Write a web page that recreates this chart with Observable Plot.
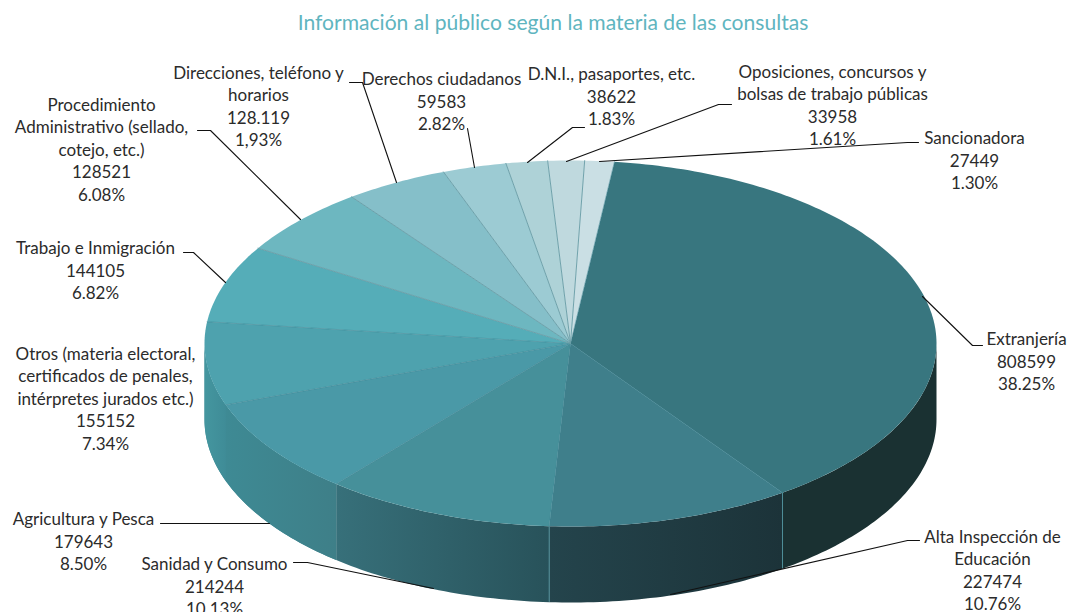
<!DOCTYPE html>
<html lang="es">
<head>
<meta charset="utf-8">
<script src="https://cdn.jsdelivr.net/npm/d3@7"></script>
<script src="https://cdn.jsdelivr.net/npm/@observablehq/plot@0.6"></script>
<style>
  html, body { margin: 0; background: #fff; overflow: hidden; }
  #title { height: 40px; width: 1106px; text-align: center; font: 21.1px/43px Lato, sans-serif; color: #5fb5bf; white-space: nowrap; }
  svg { display: block; }
</style>
</head>
<body>
<div id="title">Información al público según la materia de las consultas</div>
<div id="chart"></div>
<script>
// --- data, clockwise from the start of the largest slice
const categories = [
  "Extranjería",
  "Alta Inspección de\nEducación",
  "Sanidad y Consumo",
  "Agricultura y Pesca",
  "Otros (materia electoral,\ncertificados de penales,\nintérpretes jurados etc.)",
  "Trabajo e Inmigración",
  "Procedimiento\nAdministrativo (sellado,\ncotejo, etc.)",
  "Direcciones, teléfono y\nhorarios",
  "Derechos ciudadanos",
  "D.N.I., pasaportes, etc.",
  "Oposiciones, concursos y\nbolsas de trabajo públicas",
  "Sancionadora"
];
const countLabels = ["808599","227474","214244","179643","155152","144105","128521","128.119","59583","38622","33958","27449"];
const percentLabels = ["38.25%","10.76%","10.13%","8.50%","7.34%","6.82%","6.08%","1,93%","2.82%","1.83%","1.61%","1.30%"];
// Slice sizes in percent. The Direcciones label is inconsistent with its wedge in the source,
// so its share is read from the drawn wedge.
const shares = [38.25,10.76,10.13,8.50,7.34,6.82,6.08,4.56,2.82,1.83,1.61,1.30];

// --- styles and layout
const topColors = ["#38767f","#3f7f8b","#46909a","#4a99a7","#4ea2ae","#55adb8","#6db7c0","#85bfc9","#9ccbd3","#aed2d7","#bfd9de","#cadfe4"];
const wallStops = [["#1a3132","#1a3132"],["#24444c","#1c3339"],["#37707a","#28525a"],["#3e8a94","#3e7f88"],["#44969f","#3f8c97"]];
const labelAt = [[1026,360],[992,569],[214,585],[83,540],[105,397],[95,269],[101,148],[258,105],[441,100],[611,95],[832,104],[974,159]];
const leaders = [
  [[922,296],[972,345],[982,345]],
  [[670,594],[907,540],[919,540]],
  [[433,588],[307,562],[293,562]],
  [[269,523],[160,523]],
  [[225,282],[193,252],[183,252]],
  [[300,219],[210,130],[197,130]],
  [[396,182],[362,82],[349,82]],
  [[474,167],[467,128]],
  [[527,162],[572,127],[584,127]],
  [[566,161],[718,104],[731,104]],
  [[599,161],[907,142],[918,142]]
];
const cx = 570, cy = 343, rx = 366, ry = 183, depth = 76, startDeg = 6.9;

// --- pie geometry derived from the shares
const total = d3.sum(shares);
const rad = d => d * Math.PI / 180;
const rim = (deg, dy = 0) => [cx + rx * Math.sin(rad(deg)), cy - ry * Math.cos(rad(deg)) + dy];
const arc = (a, b, dy = 0) => {
  const n = Math.max(2, Math.ceil(Math.abs(b - a)));
  return d3.range(n + 1).map(i => rim(a + (b - a) * i / n, dy));
};
let acc = startDeg;
const slices = shares.map(s => { const a = acc; acc += s / total * 360; return [a, acc]; });

const polygon = (points, options) => Plot.line(points, {x: d => d[0], y: d => d[1], strokeWidth: 0, stroke: "none", curve: "linear", ...options});

// Wall pieces: only the front half of the disc (90° to 270°) is visible
const walls = slices.slice(0, wallStops.length).map(([a, b], i) => {
  const a1 = Math.max(a, 90), b1 = Math.min(b, 270);
  return [...arc(a1, b1), ...arc(b1, a1, depth)];
});
const wallBacking = [...arc(slices[3][0], 270), ...arc(270, slices[3][0], depth)];

const defs = () => {
  const d = d3.create("svg:defs");
  wallStops.forEach((stops, i) => {
    const g = d.append("linearGradient").attr("id", "wall" + i).attr("x1", 0).attr("x2", 1).attr("y1", 0).attr("y2", 0);
    g.append("stop").attr("offset", 0).attr("stop-color", stops[0]);
    g.append("stop").attr("offset", 1).attr("stop-color", stops[1]);
  });
  return d.node();
};

const wallEdges = slices.slice(0, 2).map(([, b]) => ({x: rim(b)[0], y1: rim(b)[1], y2: rim(b, depth)[1]}));

const labels = categories.map((c, i) => ({
  text: `${c}\n${countLabels[i]}\n${percentLabels[i]}`,
  x: labelAt[i][0], y: labelAt[i][1]
}));

const chart = Plot.plot({
  width: 1072, height: 572, margin: 0,
  x: {domain: [0, 1072], range: [0, 1072], axis: null},
  y: {domain: [40, 612], range: [0, 572], axis: null},
  marks: [
    defs,
    polygon(wallBacking, {fill: "#3f8a96"}),
    ...walls.map((w, i) => polygon(w, {fill: `url(#wall${i})`})),
    Plot.ruleX(wallEdges, {x: "x", y1: "y1", y2: "y2", stroke: "#4f8f98", strokeWidth: 1}),
    ...slices.map(([a, b], i) => polygon([[cx, cy], ...arc(a, b)], {fill: topColors[i]})),
    // thin separators between wedges
    ...slices.map(([a], i) => Plot.line([[cx, cy], rim(a)], {
      x: d => d[0], y: d => d[1], stroke: i >= 6 ? "#6a9ea8" : "#3b8290", strokeWidth: 1, strokeOpacity: i >= 6 ? 0.95 : 0.55
    })),
    ...leaders.map(l => Plot.line(l, {x: d => d[0], y: d => d[1], stroke: "#111", strokeWidth: 1.1, curve: "linear"})),
    Plot.text(labels, {
      x: "x", y: "y", text: "text", lineAnchor: "middle", textAnchor: "middle",
      lineHeight: 1.32, fontSize: 17, fontFamily: "Lato, sans-serif", fill: "#2b2b2b"
    })
  ]
});
document.getElementById("chart").append(chart);
</script>
</body>
</html>
